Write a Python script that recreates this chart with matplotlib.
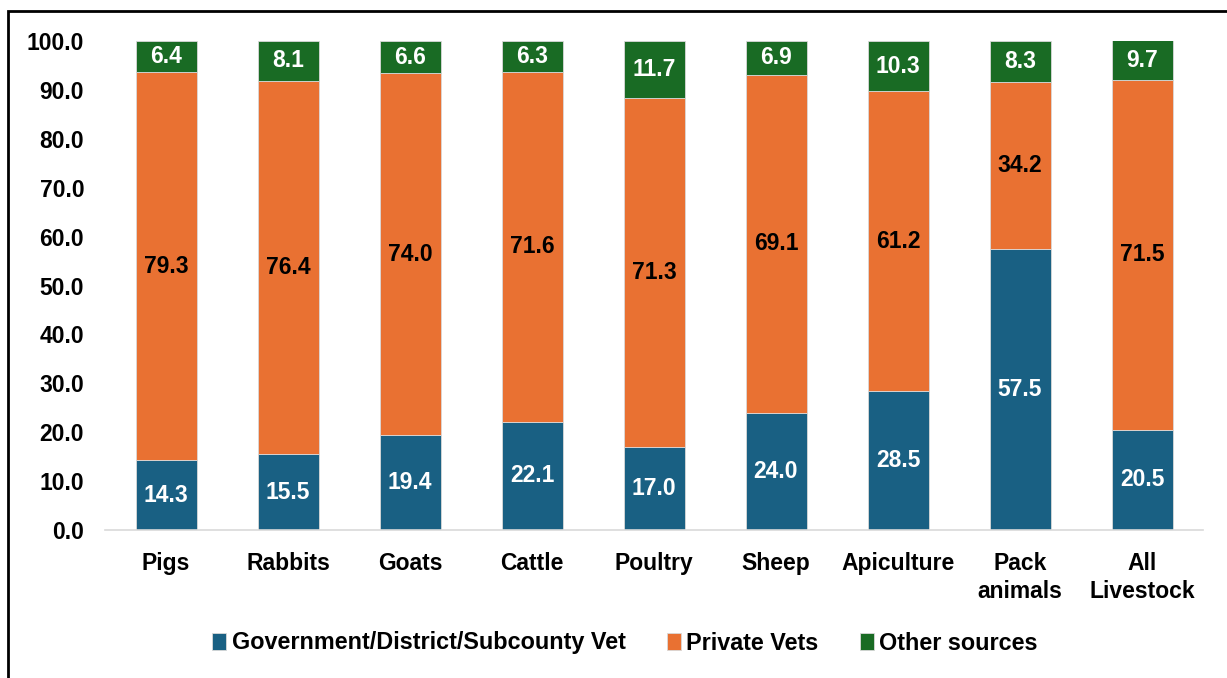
import matplotlib
matplotlib.use("Agg")
import matplotlib.pyplot as plt
from matplotlib.patches import Rectangle
import numpy as np

categories = ["Pigs", "Rabbits", "Goats", "Cattle", "Poultry", "Sheep",
              "Apiculture", "Pack\nanimals", "All\nLivestock"]
gov_vet = [14.3, 15.5, 19.4, 22.1, 17.0, 24.0, 28.5, 57.5, 20.5]
private_vets = [79.3, 76.4, 74.0, 71.6, 71.3, 69.1, 61.2, 34.2, 71.5]
other_sources = [6.4, 8.1, 6.6, 6.3, 11.7, 6.9, 10.3, 8.3, 9.7]
series_names = ["Government/District/Subcounty Vet", "Private Vets", "Other sources"]
colors = ["#196083", "#e97132", "#196b24"]
label_colors = ["white", "black", "white"]

plt.rcParams["font.family"] = ["Liberation Sans", "DejaVu Sans"]
plt.rcParams["font.weight"] = "bold"

fig = plt.figure(figsize=(12.27, 6.78), dpi=100)
ax = fig.add_axes([105 / 1227, 1 - 530 / 678, 1098 / 1227, 489 / 678])

x = np.arange(len(categories))
bottom = np.zeros(len(categories))
for vals, name, col, lcol in zip([gov_vet, private_vets, other_sources],
                                 series_names, colors, label_colors):
    vals = np.array(vals)
    ax.bar(x, vals, 0.5, bottom=bottom, color=col, label=name,
           edgecolor="#d9d9d9", linewidth=0.6)
    for xi, b, v in zip(x, bottom, vals):
        top = min(b + v, 100)
        ax.text(xi, (b + top) / 2, f"{v:.1f}", ha="center", va="center",
                color=lcol, fontsize=16.5, fontweight="bold")
    bottom += vals

ax.set_ylim(0, 100)
ax.set_xlim(-0.5, len(categories) - 0.5)
ax.set_yticks(np.arange(0, 101, 10))
ax.set_yticklabels([f"{t:.1f}" for t in np.arange(0, 101, 10)])
ax.set_xticks(x)
ax.set_xticklabels(categories, linespacing=1.25)
ax.tick_params(axis="both", length=0, labelsize=16.5)
ax.tick_params(axis="y", pad=15)
ax.tick_params(axis="x", pad=16)
for s in ["top", "right", "left"]:
    ax.spines[s].set_visible(False)
ax.spines["bottom"].set_color("#d9d9d9")
ax.spines["bottom"].set_linewidth(1.2)

leg = fig.legend(loc="center", bbox_to_anchor=(625 / 1227, 1 - 643 / 678), ncol=3,
                 frameon=False, handlelength=0.6, handleheight=0.7,
                 handletextpad=0.25, columnspacing=1.75,
                 prop={"weight": "bold", "size": 16.8})

# outer frame (left and top edges visible)
fig.patches.append(Rectangle((8 / 1227, -0.1), 1.2, 1 - 11 / 678 + 0.1,
                             transform=fig.transFigure, fill=False,
                             edgecolor="black", linewidth=2))

fig.savefig("out.png", dpi=100)
